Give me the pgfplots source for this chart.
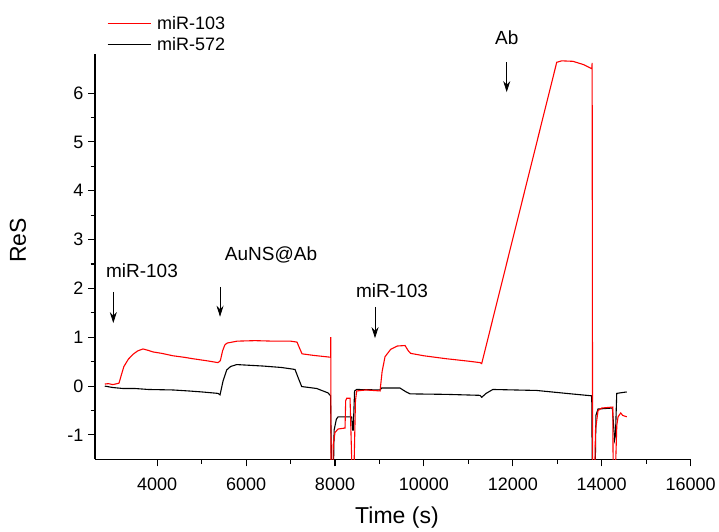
\documentclass[border=0pt]{standalone}
\usepackage{fontspec}
\setmainfont{Liberation Sans}
\usepackage{pgfplots}
\pgfplotsset{compat=1.18}
\usetikzlibrary{arrows.meta}
\begin{document}
\begin{tikzpicture}
\useasboundingbox (-95pt,-71.7pt) rectangle (624pt,459.3pt);
\begin{axis}[
  at={(0pt,0pt)}, anchor=south west,
  scale only axis, width=595.6pt, height=405.3pt,
  xmin=2600, xmax=16000, ymin=-1.5, ymax=6.8,
  axis x line=bottom, axis y line=left,
  axis line style={-, line width=1.1pt},
  xtick={4000,6000,...,16000}, minor x tick num=1,
  ytick={-1,0,...,6}, minor y tick num=1,
  tick align=outside, major tick length=7pt, minor tick length=4.5pt,
  every tick/.style={black, line width=1.1pt},
  scaled x ticks=false,
  /pgf/number format/assume math mode=true,
  /pgf/number format/set thousands separator={},
  tick label style={font=\fontsize{18}{20}\selectfont},
  xticklabel style={yshift=-8pt},
  yticklabel style={xshift=-1pt},
  every axis x label/.style={at={(axis description cs:0.507,0)}, anchor=center, yshift=-58pt},
  every axis y label/.style={at={(axis description cs:0,0.54)}, xshift=-77pt, rotate=90, anchor=center},
  label style={font=\fontsize{23}{25}\selectfont},
  xlabel={Time (s)}, ylabel={ReS},
  clip mode=individual,
  legend cell align=left,
  legend style={at={(axis description cs:0.02,1)}, anchor=south west, draw=none, fill=none,
    font=\fontsize{18}{20}\selectfont, inner sep=0pt, row sep=2pt},
  legend image code/.code={\draw[#1, line width=1pt] (0pt,0pt) -- (43pt,0pt); \path (47pt,0pt);},
]
\addplot[black, line width=1.1pt, forget plot] coordinates {
(2820,0.0)(3000,-0.03)(3230,-0.05)(3500,-0.05)(3800,-0.07)(4355,-0.08)(4700,-0.10)(5000,-0.12)(5368,-0.15)(5413,-0.18)
(5480,0.1)(5563,0.33)(5650,0.40)(5788,0.44)(6380,0.41)(6800,0.38)(7100,0.34)(7180,0.15)(7250,-0.01)(7588,-0.05)(7843,-0.14)(7900,-0.2)
(7925,-2)(7960,-2)(7980,-0.9)(8030,-0.68)(8068,-0.63)(8375,-0.63)(8395,-0.9)(8410,-0.9)(8440,-0.1)(8488,-0.07)
(9013,-0.08)(9050,-0.04)(9460,-0.04)(9600,-0.12)(9688,-0.16)(10500,-0.17)(11263,-0.19)(11300,-0.23)(11400,-0.15)(11550,-0.07)
(12538,-0.09)(13200,-0.15)(13776,-0.2)(13790,-2)(13850,-2)(13870,-0.6)(13918,-0.47)(14240,-0.45)(14290,-1.1)(14310,-1.0)(14338,-0.15)(14563,-0.12)
};
\addplot[red, line width=1.1pt] coordinates {
(2820,0.04)(2900,0.05)(3000,0.03)(3100,0.05)(3140,0.06)(3200,0.25)(3250,0.40)(3350,0.55)(3455,0.65)(3560,0.72)(3680,0.76)
(3800,0.73)(3900,0.70)(4100,0.67)(4355,0.62)(4600,0.59)(4800,0.56)(5100,0.52)(5368,0.48)(5420,0.52)(5470,0.72)(5520,0.84)(5570,0.88)
(5800,0.92)(6200,0.93)(6600,0.92)(7000,0.92)(7145,0.90)(7200,0.78)(7258,0.66)(7500,0.63)(7700,0.61)(7900,0.59)
(7905,1.0)(7910,-2)(7950,-2)(7960,-1.2)(8000,-0.95)(8068,-0.88)(8225,-0.86)(8240,-0.3)(8263,-0.25)(8338,-0.25)
(8390,-2)(8420,-2)(8460,-0.3)(8488,-0.1)(8700,-0.08)(9013,-0.1)(9060,0.3)(9125,0.6)(9250,0.75)(9400,0.82)(9575,0.83)
(9650,0.72)(9700,0.67)(10000,0.62)(10500,0.56)(11000,0.51)(11263,0.48)(11300,0.46)(12988,6.63)(13100,6.66)(13355,6.65)
(13600,6.58)(13776,6.5)(13785,6.62)(13795,-2)(13840,-2)(13860,-0.9)(13918,-0.5)(14000,-0.45)(14248,-0.43)
(14260,-2)(14300,-2)(14340,-0.8)(14368,-0.63)(14428,-0.55)(14470,-0.6)(14563,-0.63)
};
\addlegendentry{miR-103}
\addlegendimage{black}
\addlegendentry{miR-572}
\draw[-{Stealth[length=11pt,width=7pt]}, line width=0.8pt] (axis cs:3012,1.93) -- (axis cs:3012,1.29);
\draw[-{Stealth[length=11pt,width=7pt]}, line width=0.8pt] (axis cs:5413,2.03) -- (axis cs:5413,1.42);
\draw[-{Stealth[length=11pt,width=7pt]}, line width=0.8pt] (axis cs:8900,1.62) -- (axis cs:8900,0.98);
\draw[-{Stealth[length=11pt,width=7pt]}, line width=0.8pt] (axis cs:11863,6.63) -- (axis cs:11863,6.02);
\node[font=\fontsize{19}{21}\selectfont] at (axis cs:3657,2.37) {miR-103};
\node[font=\fontsize{19}{21}\selectfont] at (axis cs:6560,2.68) {AuNS@Ab};
\node[font=\fontsize{19}{21}\selectfont] at (axis cs:9283,1.96) {miR-103};
\node[font=\fontsize{19}{21}\selectfont] at (axis cs:11863,7.14) {Ab};
\end{axis}
\end{tikzpicture}
\end{document}
